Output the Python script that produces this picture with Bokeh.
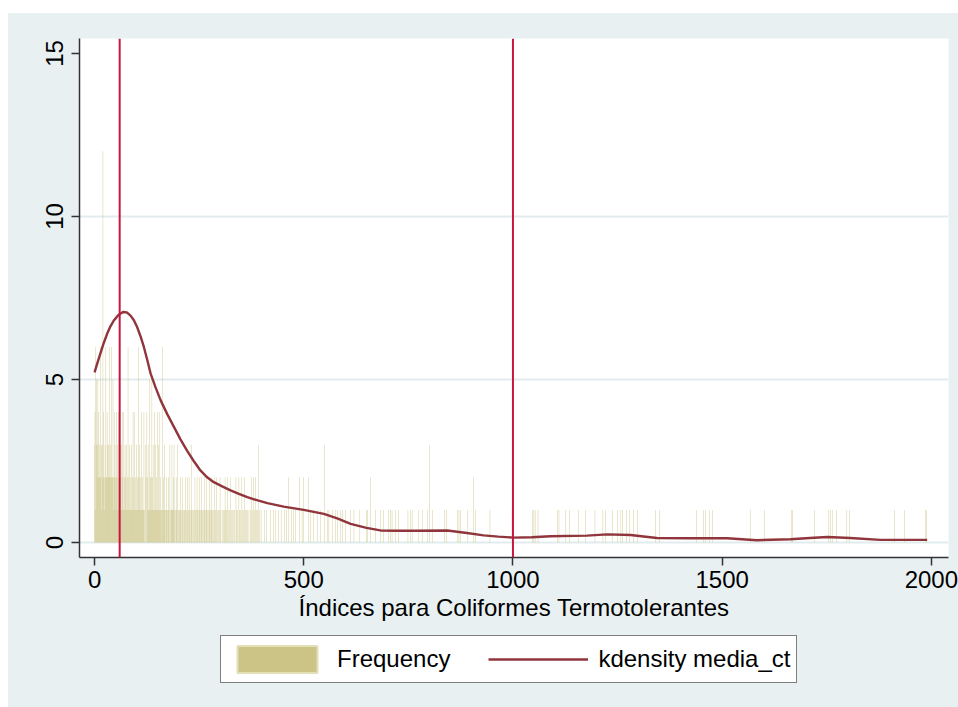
from bokeh.plotting import figure
from bokeh.models import (ColumnDataSource, FixedTicker, Span, Legend, LegendItem, Spacer)
from bokeh.layouts import column, row
from bokeh.embed import file_html
from bokeh.resources import INLINE

# ---------------- data ----------------
# values of media_ct grouped by how often they occur (frequency)
freq_12 = [20]
freq_6 = [3, 14, 27, 35, 41, 80, 105, 162]
freq_5 = [5, 8, 44, 131, 137]
freq_4 = [1, 10, 22, 30, 47, 52, 58, 66, 70, 92, 96, 112, 118, 125, 143, 150, 156]
freq_3 = [0, 4, 7, 12, 16, 18, 25, 31, 33, 38, 49, 55, 61, 64, 73, 76, 84, 88,
          100, 108, 121, 128, 140, 146, 153, 167, 180, 185, 190, 198, 232, 392,
          550, 800]
freq_2 = [6, 9, 11, 13, 15, 19, 21, 23, 26, 28, 29, 32, 34, 36, 37, 39, 40, 42,
          43, 46, 48, 50, 53, 56, 59, 62, 67, 71, 74, 78, 82, 86, 90, 94, 98,
          102, 106, 110, 115, 123, 127, 133, 135, 139, 148, 158, 165, 172, 176,
          188, 195, 205, 210, 218, 222, 226, 240, 245, 250, 256, 262, 268, 275,
          280, 286, 292, 300, 312, 318, 325, 338, 345, 352, 358, 375, 380, 385,
          464, 490, 500, 512, 660, 906]
freq_1_low = [2, 17, 24, 45, 51, 54, 57, 60, 63, 65, 68, 69, 72, 75, 77, 79, 81,
              83, 85, 87, 89, 91, 93, 95, 97, 99, 101, 103, 104, 107, 109, 111,
              113, 114, 116, 117, 119, 126, 129, 130]
freq_1_mid = [132, 134, 136, 138, 141, 142, 144, 145, 147, 149, 151, 152, 154,
              155, 157, 159, 160, 163, 164, 166, 168, 169, 171, 173, 174, 177,
              178, 181, 183, 184, 186, 187, 189, 191, 193, 196, 197, 200, 202,
              203, 206, 208, 211, 213, 215, 216, 219, 221, 224, 227, 229, 231,
              234, 236, 238, 241, 243, 246, 248, 251, 253, 255, 258, 260, 263,
              265, 267, 270, 272, 274, 277, 279, 282, 284, 288, 290, 294, 296,
              298, 302, 305, 308, 310, 314, 316, 320, 322, 327, 330, 333, 335,
              340, 342, 347, 349, 354, 356, 361, 363, 366, 369, 372, 377, 382,
              387, 390, 395, 398]
freq_1_high = [406, 411, 421, 427, 432, 440, 446, 454, 459, 470, 476, 480, 496,
               516, 524, 532, 540, 556, 560, 568, 576, 580, 588, 592, 600, 612,
               620, 634, 650, 653, 672, 683, 691, 703, 707, 711, 719, 727, 749,
               755, 759, 775, 783, 795, 807, 837, 841, 867, 871, 875, 891, 910,
               945, 998]
freq_1_tail = [1047, 1050, 1053, 1060, 1106, 1110, 1125, 1135, 1157, 1173, 1196,
               1215, 1221, 1238, 1250, 1258, 1262, 1272, 1279, 1288, 1298, 1341,
               1350, 1438, 1455, 1460, 1469, 1477, 1567, 1601, 1665, 1668, 1720,
               1755, 1759, 1763, 1773, 1798, 1805, 1912, 1936, 1986, 1988]

# kernel density of media_ct, scaled to frequency
kde_x = [0, 7, 14, 22, 30, 38, 46, 57, 68, 77, 86, 94, 102, 110, 118, 126, 134,
         146, 158, 174, 190, 205, 221, 237, 253, 269, 285, 305, 325, 345, 365,
         390, 413, 452, 500, 548, 580, 612, 650, 683, 720, 771, 843, 890, 930,
         965, 1002, 1045, 1090, 1177, 1225, 1281, 1344, 1420, 1512, 1583, 1663,
         1710, 1751, 1806, 1878, 1990]
kde_y = [5.22, 5.52, 5.80, 6.12, 6.40, 6.63, 6.81, 6.98, 7.07, 7.06, 6.96, 6.82,
         6.60, 6.32, 5.99, 5.60, 5.18, 4.75, 4.36, 3.93, 3.54, 3.17, 2.82, 2.50,
         2.21, 2.00, 1.85, 1.72, 1.60, 1.49, 1.39, 1.29, 1.21, 1.10, 1.00, 0.88,
         0.74, 0.57, 0.45, 0.37, 0.36, 0.36, 0.37, 0.29, 0.22, 0.18, 0.15, 0.16,
         0.19, 0.21, 0.25, 0.23, 0.14, 0.13, 0.13, 0.07, 0.10, 0.14, 0.17, 0.14,
         0.08, 0.08]

ref_lines = [60, 1000]
x_ticks = [0, 500, 1000, 1500, 2000]
y_ticks = [0, 5, 10, 15]
y_grid = [0, 5, 10]
x_title = "Índices para Coliformes Termotolerantes"
legend_labels = ["Frequency", "kdensity media_ct"]

# ---------------- build table ----------------
groups = [(freq_1_low, 1), (freq_1_mid, 1), (freq_1_high, 1), (freq_1_tail, 1),
          (freq_2, 2), (freq_3, 3), (freq_4, 4), (freq_5, 5), (freq_6, 6),
          (freq_12, 12)]
counts = {}
for vals, c in groups:
    for v in vals:
        counts[v] = max(counts.get(v, 0), c)
bar_x = sorted(counts)
bar_top = [counts[v] for v in bar_x]
bars_src = ColumnDataSource(dict(x=bar_x, top=bar_top))
kde_src = ColumnDataSource(dict(x=kde_x, y=kde_y))

BG = "#e8f0f2"
FONT = "Liberation Sans"
KHAKI = "#cbc486"
KDE_COLOR = "#90353b"

p = figure(width=950, height=620, output_backend="svg", toolbar_location=None,
           x_range=(-36, 2041), y_range=(-0.46, 15.46),
           min_border_left=71, min_border_right=10, min_border_top=25,
           min_border_bottom=76)
p.border_fill_color = BG
p.background_fill_color = "white"
p.outline_line_color = None

p.vbar(x="x", top="top", bottom=0, width=1, source=bars_src,
       fill_color=KHAKI, line_color=None)
p.line("x", "y", source=kde_src, line_color=KDE_COLOR, line_width=2.4,
       line_join="round")

for loc in ref_lines:
    p.add_layout(Span(location=loc, dimension="height",
                      line_color="#c8163e", line_width=2))

# axes
for ax in (p.xaxis[0], p.yaxis[0]):
    ax.axis_line_color = "#333333"
    ax.axis_line_width = 1.5
    ax.major_tick_line_color = "#333333"
    ax.major_tick_line_width = 1.5
    ax.major_tick_out = 8
    ax.major_tick_in = 0
    ax.minor_tick_line_color = None
    ax.major_label_text_font = FONT
    ax.major_label_text_font_size = "24px"
    ax.major_label_text_color = "black"
    ax.axis_label_text_font = FONT
    ax.axis_label_text_font_size = "24px"
    ax.axis_label_text_font_style = "normal"
    ax.axis_label_text_color = "black"

p.xaxis[0].ticker = FixedTicker(ticks=x_ticks)
p.yaxis[0].ticker = FixedTicker(ticks=y_ticks)
p.yaxis[0].major_label_orientation = "vertical"
p.yaxis[0].major_label_standoff = 8
p.xaxis[0].major_label_standoff = 5
p.xaxis[0].axis_label = x_title
p.xaxis[0].axis_label_standoff = 3

p.xgrid.grid_line_color = None
p.ygrid.ticker = FixedTicker(ticks=y_grid)
p.ygrid.grid_line_color = "#e2ebee"
p.ygrid.grid_line_width = 2

# ---------------- legend strip below the plot ----------------
lg = figure(width=950, height=74, output_backend="svg", toolbar_location=None,
            x_range=(0, 1), y_range=(0, 1), min_border=0)
lg.styles = {"background-color": BG}
lg.border_fill_alpha = 0
lg.background_fill_alpha = 0
lg.outline_line_color = None
lg.axis.visible = False
lg.grid.visible = False
sw_bar = lg.vbar(x="x", top="top", bottom=0, width=1, source=bars_src,
                 fill_color=KHAKI, line_color="#e3dfb6", line_width=2)
sw_line = lg.line("x", "y", source=kde_src, line_color=KDE_COLOR, line_width=2.4)
sw_bar.visible = False
sw_line.visible = False

legend = Legend(items=[LegendItem(label=legend_labels[0], renderers=[sw_bar]),
                       LegendItem(label=legend_labels[1], renderers=[sw_line])],
                orientation="horizontal", location=(141, 24))
legend.glyph_width = 100
legend.glyph_height = 34
legend.label_text_font = FONT
legend.label_text_font_size = "24px"
legend.label_text_color = "black"
legend.label_standoff = 10
legend.spacing = 38
legend.padding = 6
legend.margin = 0
legend.border_line_color = "black"
legend.border_line_width = 1
legend.background_fill_color = "white"
legend.background_fill_alpha = 1
legend.inactive_fill_alpha = 0
lg.add_layout(legend, "center")

inner = column(p, lg, spacing=0)
inner.styles = {"background-color": BG}
layout = column(Spacer(height=13),
                row(Spacer(width=8), inner, spacing=0),
                spacing=0)
open("out.html", "w").write(file_html(layout, INLINE))
